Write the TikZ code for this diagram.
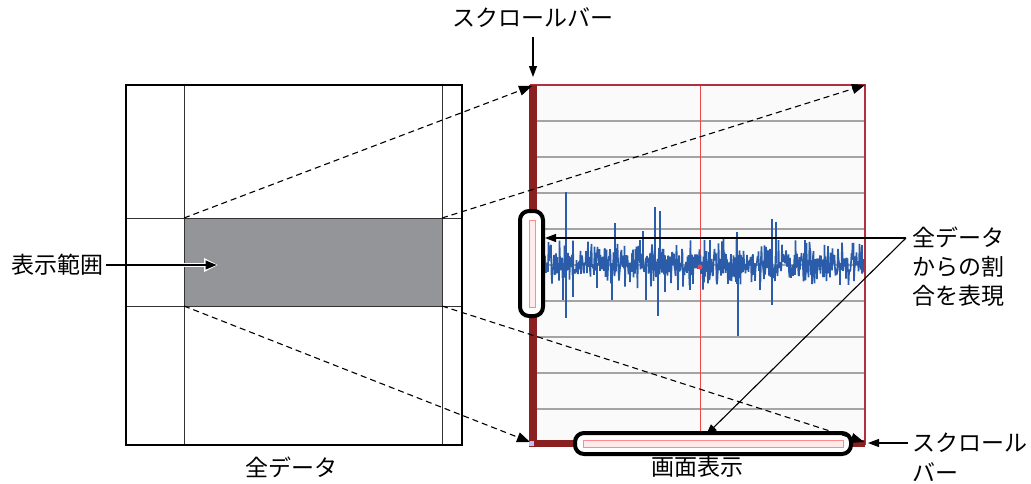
\documentclass[tikz,border=0pt]{standalone}
\usepackage{fontspec}
\newfontfamily\jp{Noto Sans CJK JP}
\usetikzlibrary{arrows.meta}
\definecolor{scrred}{HTML}{8B2020}
\definecolor{bordred}{HTML}{B03040}
\definecolor{vred}{HTML}{F04848}
\definecolor{wblue}{HTML}{2A5CAA}
\definecolor{boxgray}{HTML}{949599}
\definecolor{gridgray}{HTML}{A4A4A4}
\tikzset{
  lbl/.style={font=\jp\fontsize{23}{29}\selectfont, inner sep=0pt},
  thin line/.style={line width=1pt, black!80},
  dashline/.style={dash pattern=on 6pt off 4pt, line width=1.1pt, -{Triangle[length=13pt,width=10pt]}},
  arr/.style={line width=1.1pt, -{Triangle[length=11pt,width=8pt]}},
  wave/.style={wblue, line width=1.6pt, line join=bevel},
  spike/.style={wblue, line width=2pt},
  thumb/.style={rounded corners=9pt, line width=4pt, draw=black, fill=white},
  thumbin/.style={draw=red!45, line width=1pt, fill=red!8}
}
\begin{document}
\begin{tikzpicture}[x=1pt,y=-1pt]
\useasboundingbox (0,0) rectangle (1031,483);
% ---------- left box (all data)
\fill[boxgray] (184,218) rectangle (442,306);
\draw[thin line] (184,85) -- (184,445) (442,85) -- (442,445)
  (126,218) -- (462,218) (126,306) -- (462,306);
\draw[line width=2.5pt] (126,85) rectangle (462,445);
\coordinate (gTL) at (184,218);
\coordinate (gTR) at (442,218);
\coordinate (gBL) at (184,306);
\coordinate (gBR) at (442,306);
% ---------- screen
\fill[black!2] (530,85) rectangle (865,445);
\foreach \k in {1,...,9} {
  \draw[gridgray, line width=1.6pt] (536,{85+36*\k}) -- (865,{85+36*\k});
}
\draw[vred, line width=1pt] (700,85) -- (700,440);
% waveform
\pgfmathsetseed{11}
\draw[wave] (537,263) \foreach \i in {1,...,654} { -- ({537+\i/2},{264+(7+20*rnd)*rand}) };
\draw[spike] (566,263) -- (566,192) (566,263) -- (566,318) (563,263) -- (563,300)
  (573,263) -- (573,297) (615,263) -- (615,223) (643,263) -- (643,231)
  (646,263) -- (646,300) (655,263) -- (655,207) (660,263) -- (660,211)
  (658,263) -- (658,316) (737,263) -- (737,232) (738,263) -- (738,336)
  (772,263) -- (772,219) (776,263) -- (776,222) (772,263) -- (772,305)
  (612,263) -- (612,300) (597,263) -- (597,288) (690,263) -- (690,290)
  (805,263) -- (805,240) (840,263) -- (840,285) (862,263) -- (862,245)
  (640,263) -- (640,240) (665,263) -- (665,292) (710,263) -- (710,240)
  (760,263) -- (760,290);
\fill[vred] (700,267) circle (2.5pt);
% borders
\draw[bordred, line width=1.5pt] (530,85) -- (865,85) -- (865,445);
\fill[scrred] (529,84.5) rectangle (537,446);
\fill[scrred] (529,440) rectangle (865,447);
\fill[blue!25] (529,441) rectangle (534,446);
\coordinate (sTL) at (532,86);
\coordinate (sTR) at (865,85);
\coordinate (sBL) at (530,442);
\coordinate (sBR) at (864,442);
% scroll thumbs
\node[thumb, minimum width=23pt, minimum height=105pt, inner sep=0pt] (vthumb) at (531.5,263.5) {};
\draw[thumbin] (529,220) rectangle (535,307);
\node[thumb, minimum width=276pt, minimum height=21pt, inner sep=0pt] (hthumb) at (713,443.5) {};
\draw[thumbin] (583,440) rectangle (843,447);
% ---------- dashed projection lines
\draw[dashline] (gTL) -- (sTL);
\draw[dashline] (gTR) -- (sTR);
\draw[dashline] (gBL) -- (sBL);
\draw[dashline] (gBR) -- (sBR);
% ---------- labels
\node[lbl] (sbtop) at (533,18) {スクロールバー};
\coordinate (sbtopend) at (533,77);
\draw[arr] (sbtop.south |- 0,37) -- (sbtopend);

\node[lbl] (hyoji) at (57,265) {表示範囲};
\coordinate (hyojiend) at (218,265);
\draw[white, line width=3.5pt, -{Triangle[length=14pt,width=13pt]}] (184,265) -- (hyojiend);
\draw[line width=1.2pt, -{Triangle[length=11pt,width=9pt]}] (hyoji.east) ++(3,0) -- ([xshift=-1.5pt]hyojiend);

\node[lbl] (zen) at (291,467) {全データ};
\node[lbl] (gamen) at (697,467) {画面表示};

\node[lbl, align=left, anchor=west] (ratio) at (912,267) {全データ\\からの割\\合を表現};
\coordinate (rj) at (906,238);
\coordinate (hthumbtip) at (706,435);
\draw[arr] (rj) -- (rj -| vthumb.east);
\draw[arr] (rj) -- (hthumbtip);

\node[lbl, anchor=west] (sb2a) at (912,443) {スクロール};
\node[lbl, anchor=west] (sb2b) at (912,472) {バー};
\draw[arr] ([xshift=-4pt]sb2a.west) -- (868,443);
\end{tikzpicture}
\end{document}
